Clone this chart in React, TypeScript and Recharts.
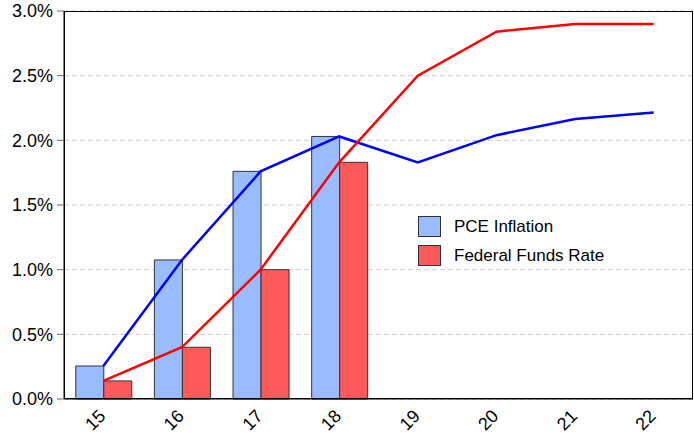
import {
  ComposedChart,
  Bar,
  Line,
  XAxis,
  YAxis,
  CartesianGrid,
} from "recharts";

const years = ["15", "16", "17", "18", "19", "20", "21", "22"];
const pceBars = [0.255, 1.075, 1.76, 2.03, null, null, null, null];
const ffrBars = [0.14, 0.4, 1.0, 1.83, null, null, null, null];
const pceLine = [0.255, 1.075, 1.76, 2.03, 1.83, 2.04, 2.165, 2.215];
const ffrLine = [0.14, 0.4, 1.0, 1.83, 2.5, 2.84, 2.9, 2.9];
const yTicks = [0, 0.5, 1, 1.5, 2, 2.5, 3];

const data = years.map((y, i) => ({
  year: y,
  pce: pceBars[i],
  ffr: ffrBars[i],
  pceLine: pceLine[i],
  ffrLine: ffrLine[i],
}));

const FONT = "'Liberation Sans', Arial, sans-serif";

function XTick({ x, y, payload }: any) {
  const ax = x - 1;
  const ay = y + 6;
  return (
    <text
      x={ax}
      y={ay}
      transform={`rotate(-45, ${ax}, ${ay})`}
      textAnchor="end"
      dominantBaseline="central"
      fontFamily={FONT}
      fontSize={18}
      fill="#000"
    >
      {payload.value}
    </text>
  );
}

// legend sits inside the plot, drawn as plain html over the chart
function LegendBox() {
  const items = [
    { label: "PCE Inflation", color: "#99BBFF" },
    { label: "Federal Funds Rate", color: "#FF5A5A" },
  ];
  return (
    <div style={{ position: "absolute", left: 418, top: 212, fontFamily: FONT, fontSize: 17 }}>
      {items.map((it) => (
        <div key={it.label} style={{ display: "flex", alignItems: "center", height: 29 }}>
          <div
            style={{
              width: 21,
              height: 19,
              background: it.color,
              border: "1px solid #333",
              marginRight: 13,
            }}
          />
          <span>{it.label}</span>
        </div>
      ))}
    </div>
  );
}

export default function App() {
  return (
    <div style={{ position: "absolute", left: 0, top: 0, width: 694, height: 435, background: "#fff" }}>
      <ComposedChart
        width={694}
        height={435}
        data={data}
        margin={{ top: 11, right: 1, bottom: 0, left: 0 }}
        barCategoryGap="15%"
        barGap={0}
      >
        <CartesianGrid vertical={false} stroke="#cccccc" strokeDasharray="5 3" />
        <XAxis
          dataKey="year"
          height={36}
          tick={<XTick />}
          tickLine={false}
          axisLine={{ stroke: "#000" }}
          interval={0}
        />
        <YAxis
          width={64}
          domain={[0, 3]}
          ticks={yTicks}
          tickFormatter={(v: number) => `${v.toFixed(1)}%`}
          tick={{ fill: "#000", fontFamily: FONT, fontSize: 18 }}
          tickLine={{ stroke: "#666" }}
          tickSize={7}
          tickMargin={4}
          axisLine={{ stroke: "#000" }}
        />
        <Bar dataKey="pce" fill="#99BBFF" stroke="#333" strokeWidth={1} isAnimationActive={false} />
        <Bar dataKey="ffr" fill="#FF5A5A" stroke="#333" strokeWidth={1} isAnimationActive={false} />
        <Line
          dataKey="pceLine"
          type="linear"
          stroke="#0000FF"
          strokeWidth={2.5}
          dot={false}
          isAnimationActive={false}
        />
        <Line
          dataKey="ffrLine"
          type="linear"
          stroke="#FF0000"
          strokeWidth={2.5}
          dot={false}
          isAnimationActive={false}
        />
      </ComposedChart>
      {/* frame around the plot area */}
      <div
        style={{
          position: "absolute",
          left: 64,
          top: 11,
          width: 629,
          height: 388,
          boxSizing: "border-box",
          border: "1px solid #000",
          pointerEvents: "none",
        }}
      />
      <LegendBox />
    </div>
  );
}
